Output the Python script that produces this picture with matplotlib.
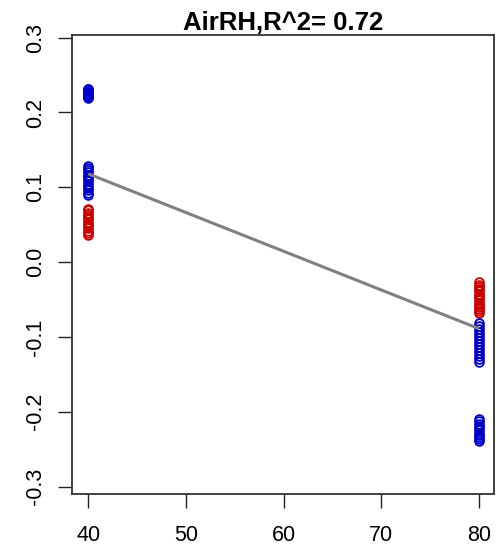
import matplotlib
matplotlib.use("Agg")
import matplotlib.pyplot as plt
import numpy as np

plt.rcParams['font.family'] = ['Liberation Sans', 'DejaVu Sans']

title = "AirRH,R^2= 0.72"
x_ticks = [40, 50, 60, 70, 80]
y_ticks = [-0.3, -0.2, -0.1, 0.0, 0.1, 0.2, 0.3]
y_ticklabels = ["-0.3", "-0.2", "-0.1", "0.0", "0.1", "0.2", "0.3"]

x40_blue_high = [0.220, 0.221, 0.222, 0.223, 0.224, 0.225, 0.226, 0.227, 0.228, 0.229, 0.230, 0.231, 0.232]
x40_blue_mid = [0.090, 0.093, 0.096, 0.099, 0.102, 0.105, 0.108, 0.111, 0.114, 0.117, 0.120, 0.123, 0.126, 0.129]
x40_red = [0.036, 0.039, 0.042, 0.045, 0.048, 0.051, 0.054, 0.057, 0.060, 0.063, 0.066, 0.069, 0.071]
x80_red = [-0.027, -0.030, -0.033, -0.036, -0.039, -0.042, -0.045, -0.048, -0.051, -0.054, -0.057, -0.060, -0.063, -0.066, -0.068]
x80_blue_mid = [-0.082, -0.086, -0.090, -0.094, -0.098, -0.102, -0.106, -0.110, -0.114, -0.118, -0.122, -0.126, -0.130, -0.133]
x80_blue_low = [-0.210, -0.213, -0.216, -0.219, -0.222, -0.225, -0.228, -0.231, -0.234, -0.237, -0.239]

fit_x = [40, 80]
fit_y = [0.118, -0.089]

blue = "#0000CD"
red = "#CD0000"

fig = plt.figure(figsize=(5.02, 5.47), dpi=100)
ax = fig.add_axes([72.3/502, 1-494/547, (494.3-72.3)/502, (494-35)/547])

def pts(x, ys, c):
    ax.plot([x]*len(ys), ys, linestyle='none', marker='o', markersize=6.3,
            markerfacecolor='none', markeredgecolor=c, markeredgewidth=1.3)

pts(40, x40_blue_high, blue)
pts(40, x40_blue_mid, blue)
pts(40, x40_red, red)
pts(80, x80_red, red)
pts(80, x80_blue_mid, blue)
pts(80, x80_blue_low, blue)

ax.plot(fit_x, fit_y, color="#808080", linewidth=2.2, solid_capstyle='butt')

ax.set_xlim(38.36, 81.57)
ax.set_ylim(-0.310, 0.3036)
ax.set_xticks(x_ticks)
ax.set_xticklabels([str(v) for v in x_ticks])
ax.set_yticks(y_ticks)
ax.set_yticklabels(y_ticklabels, rotation=90, va='center')
ax.tick_params(axis='both', direction='out', length=10, width=1.0, labelsize=15.5, color='#222222')
ax.tick_params(axis='x', pad=12)
ax.tick_params(axis='y', pad=9)
for s in ax.spines.values():
    s.set_linewidth(1.3)
    s.set_color('#333333')
ax.set_title(title, fontsize=18.5, fontweight='bold', pad=3)

fig.savefig("out.png", dpi=100)
